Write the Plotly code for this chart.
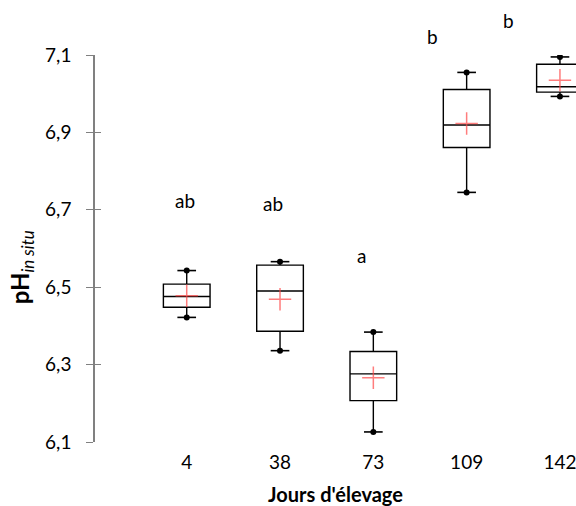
import plotly.graph_objects as go

# Sampling days and box-plot statistics of in-situ pH
days = ["4", "38", "73", "109", "142"]
lower = [6.422, 6.336, 6.126, 6.745, 6.993]
q1 = [6.448, 6.386, 6.207, 6.861, 7.004]
median = [6.476, 6.490, 6.276, 6.919, 7.018]
q3 = [6.508, 6.557, 6.334, 7.011, 7.076]
upper = [6.543, 6.566, 6.384, 7.055, 7.095]
mean = [6.478, 6.469, 6.266, 6.923, 7.035]

# Significance groups and where each letter sits (x in day-index units, y in pH)
letters = ["ab", "ab", "a", "b", "b"]
letter_x = [-0.018, 0.921, 1.871, 2.636, 3.453]
letter_y = [6.723, 6.717, 6.582, 7.148, 7.190]

pos = list(range(len(days)))
FONT = "Lato"
cap = 0.1
XR = [-0.983, 4.172]
YR = [6.1, 7.1]

fig = go.Figure()

for i in pos:
    fig.add_trace(go.Box(
        x=[i], q1=[q1[i]], median=[median[i]], q3=[q3[i]],
        lowerfence=[lower[i]], upperfence=[upper[i]],
        width=0.5, whiskerwidth=0,
        fillcolor="rgba(255,255,255,0)",
        line=dict(color="black", width=1.4),
        boxpoints=False, showlegend=False, hoverinfo="skip",
    ))

# whisker caps
cx, cy = [], []
for i in pos:
    for v in (lower[i], upper[i]):
        cx += [i - cap, i + cap, None]
        cy += [v, v, None]
fig.add_trace(go.Scatter(x=cx, y=cy, mode="lines",
                         line=dict(color="black", width=1.6),
                         showlegend=False, hoverinfo="skip"))
# whisker end dots
fig.add_trace(go.Scatter(x=pos + pos, y=lower + upper, mode="markers",
                         marker=dict(color="black", size=6),
                         showlegend=False, hoverinfo="skip"))
# means
fig.add_trace(go.Scatter(x=pos, y=mean, mode="markers",
                         marker=dict(symbol="cross-thin", size=16,
                                     line=dict(color="rgba(255,70,70,0.7)", width=1.5)),
                         showlegend=False, hoverinfo="skip"))
# carrier for the inner tick axis
fig.add_trace(go.Scatter(x=[None], y=[None], yaxis="y2", showlegend=False))

# letters placed in paper space so those above the axis range still show
for t, lx, ly in zip(letters, letter_x, letter_y):
    fig.add_annotation(xref="paper", yref="paper",
                       x=(lx - XR[0]) / (XR[1] - XR[0]),
                       y=(ly - YR[0]) / (YR[1] - YR[0]),
                       text=t, showarrow=False,
                       xanchor="center", yanchor="middle",
                       font=dict(family=FONT, size=19, color="black"))

# y-axis title
fig.add_annotation(xref="paper", yref="paper", x=-0.152, y=0.451,
                   text="<b>pH</b><sub><i>in situ</i></sub>", textangle=-90,
                   showarrow=False, xanchor="center", yanchor="middle",
                   font=dict(family=FONT, size=24, color="black"))

yticks = [6.1, 6.3, 6.5, 6.7, 6.9, 7.1]

fig.update_layout(
    width=576, height=506,
    margin=dict(l=95, r=0, t=55, b=64),
    paper_bgcolor="white", plot_bgcolor="white",
    separators=", ",
    font=dict(family=FONT, size=19, color="black"),
    xaxis=dict(range=XR, tickvals=pos, ticktext=days,
               showline=False, showgrid=False, zeroline=False,
               ticks="outside", ticklen=3, tickcolor="rgba(0,0,0,0)",
               ticklabeloverflow="allow",
               title=dict(text="<b>Jours d'élevage</b>", standoff=17,
                          font=dict(family=FONT, size=20))),
    yaxis=dict(range=YR, tickvals=yticks, tickformat=".1f",
               showline=True, linecolor="#808080", linewidth=1.5,
               ticks="outside", ticklen=7, tickcolor="#808080", tickwidth=1.3,
               ticklabelstandoff=11,
               showgrid=False, zeroline=False),
    yaxis2=dict(range=YR, tickvals=yticks, overlaying="y", side="left",
                anchor="x", ticks="inside", ticklen=6, tickcolor="#808080",
                tickwidth=1.3, showticklabels=False, showline=False,
                showgrid=False, zeroline=False),
)

fig.write_html("out.html")
